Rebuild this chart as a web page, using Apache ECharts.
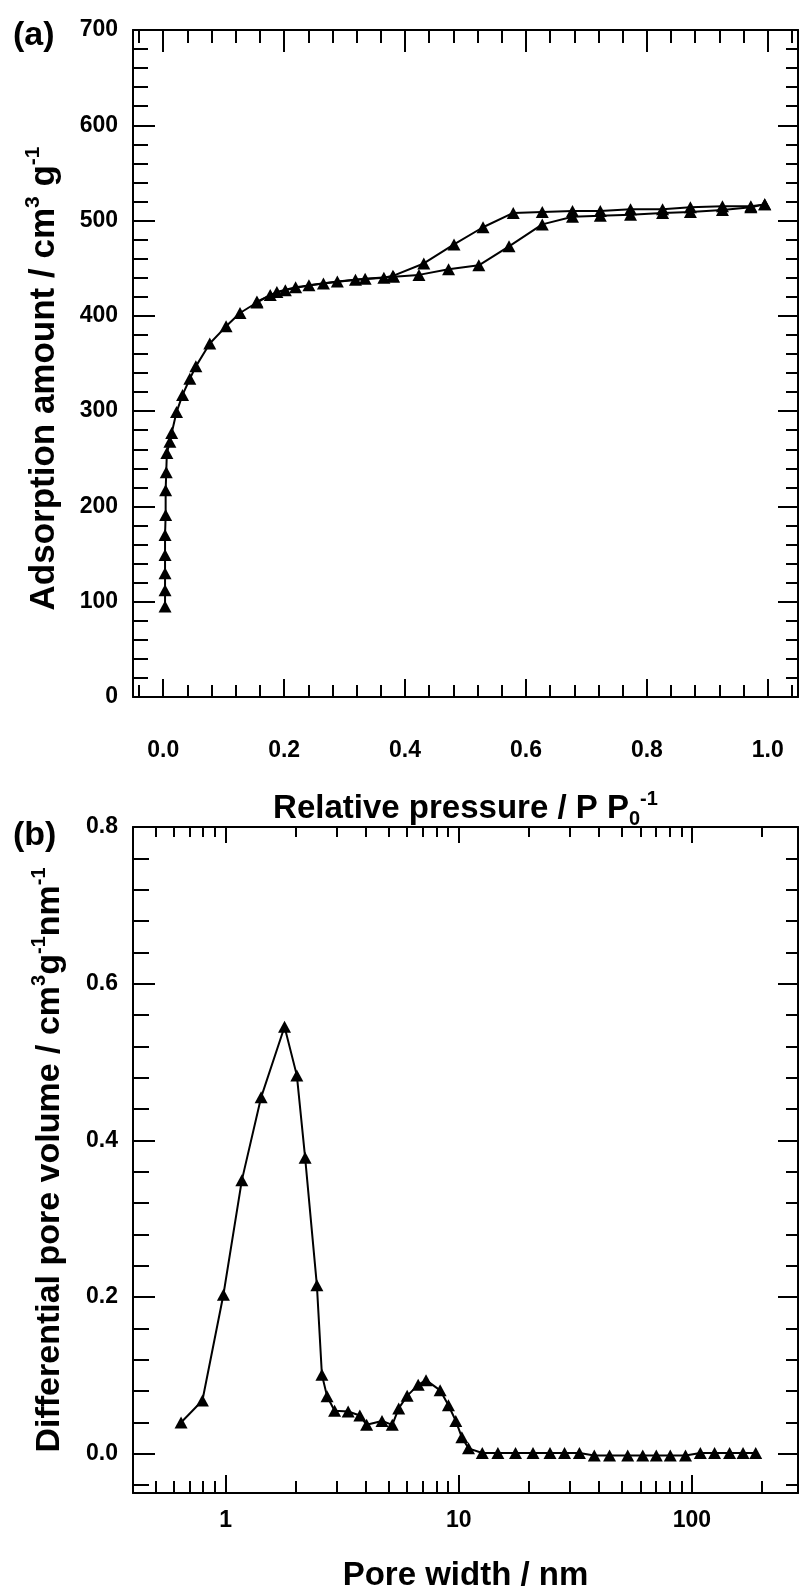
<!DOCTYPE html>
<html lang="en">
<head>
  <meta charset="UTF-8">
  <title>N2 isotherm and pore size distribution</title>
  <script src="https://cdn.jsdelivr.net/npm/echarts@6.0.0/dist/echarts.min.js"></script>
  <style>
    html, body { margin: 0; padding: 0; background: #fff; }
    #chart { width: 800px; height: 1586px; }
  </style>
</head>
<body>
  <div id="chart"></div>
  <script>
    // (a) isotherm, adsorption branch
    var adsP = [0.003, 0.003, 0.003, 0.003, 0.003, 0.004, 0.004, 0.005, 0.006, 0.011, 0.014,
                0.022, 0.032, 0.044, 0.054, 0.077, 0.104, 0.127, 0.155, 0.177, 0.202, 0.241,
                0.288, 0.334, 0.381, 0.423, 0.472, 0.522, 0.572, 0.627, 0.677, 0.723, 0.773,
                0.826, 0.872, 0.925, 0.972, 0.995];
    var adsV = [95, 112, 130, 149, 170, 191, 217, 236, 256, 268, 277,
                299, 317, 334, 347, 371, 389, 403, 414, 422, 427, 432,
                436, 439, 441, 443, 449, 453, 473, 496, 504, 505, 506,
                508, 509, 511, 514, 517];
    // (a) desorption branch
    var desP = [0.995, 0.972, 0.925, 0.872, 0.826, 0.773, 0.723, 0.677, 0.627, 0.579,
                0.529, 0.481, 0.431, 0.380, 0.365, 0.318, 0.265, 0.219, 0.188, 0.155];
    var desV = [517, 515, 515, 514, 512, 512, 510, 510, 509, 508,
                493, 475, 455, 442, 440, 438, 434, 430, 425, 415];

    // (b) pore size distribution
    var poreW = [0.643, 0.794, 0.977, 1.172, 1.418, 1.787, 2.018, 2.19, 2.46, 2.585,
                 2.72, 2.93, 3.35, 3.76, 4.02, 4.68, 5.18, 5.52, 6.0, 6.69,
                 7.23, 8.31, 9.02, 9.70, 10.3, 11.0, 12.6, 14.7, 17.5, 20.8,
                 24.6, 28.4, 32.9, 38.1, 44.3, 53, 61.5, 70.3, 80.7, 93.8,
                 108.6, 125, 145, 165.6, 187.7];
    var poreDV = [0.040, 0.068, 0.203, 0.349, 0.455, 0.545, 0.483, 0.378, 0.215, 0.101,
                  0.0735, 0.055, 0.054, 0.049, 0.037, 0.042, 0.037, 0.058, 0.074, 0.088,
                  0.094, 0.081, 0.062, 0.042, 0.021, 0.007, 0.001, 0.001, 0.001, 0.001,
                  0.001, 0.001, 0.001, -0.002, -0.002, -0.002, -0.002, -0.002, -0.002, -0.002,
                  0.001, 0.001, 0.001, 0.001, 0.001];

    // tick positions / labels
    var pTicks = [0, 0.2, 0.4, 0.6, 0.8, 1.0];
    var pMinor = [-0.04, 0.04, 0.08, 0.12, 0.16, 0.24, 0.28, 0.32, 0.36, 0.44, 0.48, 0.52, 0.56,
                  0.64, 0.68, 0.72, 0.76, 0.84, 0.88, 0.92, 0.96, 1.04];
    var dvTicks = [0, 0.2, 0.4, 0.6, 0.8];
    var dvMinor = [-0.04, 0.04, 0.08, 0.12, 0.16, 0.24, 0.28, 0.32, 0.36, 0.44, 0.48, 0.52, 0.56,
                   0.64, 0.68, 0.72, 0.76];
    var wTicks = [1, 10, 100];
    var wMinor = [0.5, 0.6, 0.7, 0.8, 0.9, 2, 3, 4, 5, 6, 7, 8, 9,
                  20, 30, 40, 50, 60, 70, 80, 90, 200];

    var FONT = '"Liberation Sans", Arial, sans-serif';
    var line = { color: '#000', width: 2 };
    var tickFont = { fontFamily: FONT, fontSize: 23, fontWeight: 'bold', color: '#000' };

    function nameFont(size, pad) {
      var s = Math.round(size * 0.6);
      var st = {
        fontFamily: FONT, fontSize: size, fontWeight: 'bold', color: '#000', lineHeight: Math.round(size * 1.2),
        rich: {
          sup: { fontFamily: FONT, fontSize: s, fontWeight: 'bold', color: '#000', lineHeight: Math.round(s * 0.9), verticalAlign: 'top' },
          sub: { fontFamily: FONT, fontSize: s, fontWeight: 'bold', color: '#000', lineHeight: Math.round(s * 0.7), verticalAlign: 'bottom' }
        }
      };
      if (pad) st.padding = pad;
      return st;
    }

    // one axis that only draws a set of inward ticks (and optionally the frame line / labels)
    function axis(grid, pos, type, min, max, ticks, len, opt) {
      opt = opt || {};
      var a = {
        gridIndex: grid, type: type, position: pos, min: min, max: max,
        axisLine: { show: !!opt.line, onZero: false, lineStyle: line },
        axisTick: { show: true, inside: true, length: len, customValues: ticks, lineStyle: line },
        axisLabel: { show: false },
        splitLine: { show: false },
        minorTick: { show: false },
        minorSplitLine: { show: false }
      };
      if (type === 'log') a.logBase = 10;
      if (opt.labels) {
        a.axisLabel = Object.assign({ show: true, customValues: ticks, formatter: opt.labels, margin: opt.margin }, tickFont);
      }
      if (opt.name) {
        a.name = opt.name;
        a.nameLocation = 'middle';
        a.nameGap = opt.nameGap;
        a.nameTextStyle = opt.nameStyle;
      }
      return a;
    }

    var fmt1 = function (v) { return (+v).toFixed(1); };
    var fmtInt = function (v) { return String(Math.round(v)); };

    var xAxes = [
      axis(0, 'bottom', 'value', -0.05, 1.05, pTicks, 18,
           { line: true, labels: fmt1, margin: 42, name: 'Relative pressure / P P{sub|0}{sup|-1}',
             nameGap: 92, nameStyle: nameFont(33) }),
      axis(0, 'bottom', 'value', -0.05, 1.05, pMinor, 12),
      axis(0, 'top', 'value', -0.05, 1.05, pTicks, 22, { line: true }),
      axis(0, 'top', 'value', -0.05, 1.05, pMinor, 13),

      axis(1, 'bottom', 'log', 0.4, 285, wTicks, 18,
           { line: true, labels: fmtInt, margin: 16, name: 'Pore width / nm',
             nameGap: 63, nameStyle: nameFont(33) }),
      axis(1, 'bottom', 'log', 0.4, 285, wMinor, 12),
      axis(1, 'top', 'log', 0.4, 285, wTicks, 16, { line: true }),
      axis(1, 'top', 'log', 0.4, 285, wMinor, 10)
    ];

    var yTopMain = {
      gridIndex: 0, type: 'value', position: 'left', min: 0, max: 700, interval: 100,
      axisLine: { show: true, onZero: false, lineStyle: line },
      axisTick: { show: true, inside: true, length: 22, lineStyle: line },
      minorTick: { show: true, splitNumber: 5, length: 15, lineStyle: line },
      axisLabel: Object.assign({ margin: 15, formatter: fmtInt }, tickFont),
      splitLine: { show: false }, minorSplitLine: { show: false },
      name: 'Adsorption amount / cm{sup|3} g{sup|-1}', nameLocation: 'middle', nameGap: 68,
      nameTextStyle: nameFont(35, [0, 30, 0, 0])
    };
    var yTopRight = {
      gridIndex: 0, type: 'value', position: 'right', min: 0, max: 700, interval: 100,
      axisLine: { show: true, onZero: false, lineStyle: line },
      axisTick: { show: true, inside: true, length: 20, lineStyle: line },
      minorTick: { show: true, splitNumber: 5, length: 12, lineStyle: line },
      axisLabel: { show: false },
      splitLine: { show: false }, minorSplitLine: { show: false }
    };

    var yAxes = [
      yTopMain,
      yTopRight,
      axis(1, 'left', 'value', -0.05, 0.8, dvTicks, 22,
           { line: true, labels: fmt1, margin: 15,
             name: 'Differential pore volume / cm{sup|3}g{sup|-1}nm{sup|-1}', nameGap: 63,
             nameStyle: nameFont(34) }),
      axis(1, 'left', 'value', -0.05, 0.8, dvMinor, 16),
      axis(1, 'right', 'value', -0.05, 0.8, dvTicks, 20, { line: true }),
      axis(1, 'right', 'value', -0.05, 0.8, dvMinor, 12)
    ];

    function pairs(xs, ys) {
      return xs.map(function (x, i) { return [x, ys[i]]; });
    }
    var markerSeries = {
      type: 'line', symbol: 'triangle', symbolSize: [13, 12], showSymbol: true,
      lineStyle: { color: '#000', width: 2 }, itemStyle: { color: '#000' },
      emphasis: { disabled: true }, z: 5
    };

    var chart = echarts.init(document.getElementById('chart'), null, { renderer: 'canvas' });
    chart.setOption({
      animation: false,
      backgroundColor: '#fff',
      title: [
        { text: '(a)', left: 8, top: 14, textStyle: { fontFamily: FONT, fontSize: 34, fontWeight: 'bold', color: '#000' } },
        { text: '(b)', left: 8, top: 814, textStyle: { fontFamily: FONT, fontSize: 34, fontWeight: 'bold', color: '#000' } }
      ],
      grid: [
        { left: 133, top: 30, width: 665, height: 667, outerBoundsMode: 'none' },
        { left: 133, top: 827, width: 665, height: 666, outerBoundsMode: 'none' }
      ],
      xAxis: xAxes,
      yAxis: yAxes,
      series: [
        Object.assign({ name: 'Adsorption', xAxisIndex: 0, yAxisIndex: 0, data: pairs(adsP, adsV) }, markerSeries),
        Object.assign({ name: 'Desorption', xAxisIndex: 0, yAxisIndex: 0, data: pairs(desP, desV) }, markerSeries),
        Object.assign({ name: 'PSD', xAxisIndex: 4, yAxisIndex: 2, data: pairs(poreW, poreDV) }, markerSeries)
      ]
    });
  </script>
</body>
</html>
